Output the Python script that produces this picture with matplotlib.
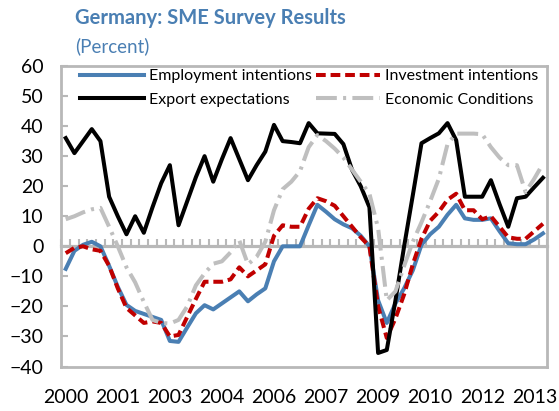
import matplotlib
matplotlib.use("Agg")
import matplotlib.pyplot as plt
import numpy as np

plt.rcParams['font.family'] = ['Lato', 'DejaVu Sans']
plt.rcParams['lines.scale_dashes'] = False

# ---- data (quarterly, 2000Q1 .. 2013Q4) ----
year_labels = ['2000', '2001', '2003', '2004', '2006', '2007', '2009', '2010', '2012', '2013']
label_every = 6

employment = [-7.5, -1.5, 0.5, 1.5, 0, -6.5, -13.5, -19.5, -21.5, -22.5,
              -23.5, -24.5, -31.5, -31.8, -27, -22.3, -19.6, -21, -19, -17,
              -15, -18.3, -16, -14, -5, 0, 0, 0, 7, 13.8,
              11.5, 9, 7.3, 6, 3.5, 0, -18, -25.5, -19, -14,
              -8, 0.5, 4, 6.5, 10.5, 13.8, 9.3, 8.8, 8.8, 9.3,
              5, 1, 0.7, 0.7, 2.3, 4.3]
investment = [-2.3, -0.5, 0, -1, -1.5, -6.5, -14, -20.5, -23, -25.5,
              -25, -25.5, -30, -29.5, -23.5, -17.5, -11.8, -11.8, -11.8, -11,
              -7, -10, -8, -6, 3.5, 7, 6.5, 6.5, 12.5, 16,
              15, 13.5, 10, 6.5, 3, 0, -20, -30.5, -24, -16,
              -6, 2.5, 8.5, 11.5, 15.5, 17.5, 12, 12, 9, 10,
              6.5, 3, 2.5, 2.5, 5, 7.5]
export = [36, 31, 35, 39, 35, 16.5, 10, 4, 10, 4.5,
          13, 21, 27, 7, 15, 23, 30, 21.5, 29, 36,
          29, 22, 27, 31.5, 40.4, 35, 34.7, 34.3, 41, 37.6,
          37.5, 37.4, 34, 25.4, 20, 13, -35.5, -34.5, -18, 0,
          17, 34.3, 36, 37.6, 41, 35.3, 16.5, 16.5, 16.5, 22,
          14, 6.5, 16, 16.5, 19.7, 22.8]
economic = [9, 10, 11.3, 12.3, 12.8, 6.5, 0, -7, -12, -18.5,
            -24.5, -25.5, -25.7, -24.5, -20, -13, -9, -5.8, -5, -2,
            2, -6, -3.5, 1.5, 12, 19, 21.5, 25, 33, 37,
            35, 32.5, 29.5, 25.5, 21.5, 17.5, 6, -18, -15, -6.5,
            1.5, 8, 15, 22.5, 34, 37.5, 37.5, 37.5, 37.3, 33,
            29.5, 27, 27, 18, 22.5, 27.5]

x = np.arange(len(export))
n = len(x)

BLUE = '#4a7fb3'
RED = '#c00000'
GRAY = '#bfbfbf'
AXGRAY = '#b8b8b8'

fig = plt.figure(figsize=(5.59, 4.11), dpi=100)
ax = fig.add_axes([61.4 / 559, (411 - 366.5) / 411, 485.9 / 559, 300.5 / 411])

lw = 2.9
l1, = ax.plot(x, employment, color=BLUE, lw=lw, solid_joinstyle='round', label='Employment intentions')
l2, = ax.plot(x, investment, color=RED, lw=lw, linestyle=(0, (7, 3.5)), dash_capstyle='butt',
              label='Investment intentions')
l3, = ax.plot(x, export, color='black', lw=lw, solid_joinstyle='round', label='Export expectations')
l4, = ax.plot(x, economic, color=GRAY, lw=lw, linestyle=(0, (15, 4.5, 2.2, 4.5)), dash_capstyle='butt',
              label='Economic Conditions')

ax.set_xlim(-0.5, n - 0.5)
ax.set_ylim(-40, 60)
ax.set_yticks(np.arange(-40, 61, 10))
ax.set_xticks(np.arange(0, n, label_every)[:len(year_labels)], labels=year_labels)

for s in ax.spines.values():
    s.set_color(AXGRAY)
    s.set_linewidth(2.0)

ax.tick_params(axis='x', length=0, pad=16, labelsize=14)
ax.tick_params(axis='y', direction='in', length=5, width=1.5, color=AXGRAY, pad=13, labelsize=14)

# horizontal category axis crossing at zero
ax2 = ax.secondary_xaxis(0.4)
ax2.set_xticks(np.arange(-0.5, n, 1.0))
ax2.tick_params(axis='x', direction='in', length=5, width=1.5, color=AXGRAY, labelbottom=False)
ax2.spines['bottom'].set_color(AXGRAY)
ax2.spines['bottom'].set_linewidth(2.3)

leg = ax.legend([l1, l3, l2, l4], [l1.get_label(), l3.get_label(), l2.get_label(), l4.get_label()],
                ncol=2, loc='upper left', bbox_to_anchor=(0.038, 0.99), frameon=False,
                borderaxespad=0, borderpad=0, fontsize=11.5, handlelength=4.0, handletextpad=0.3,
                columnspacing=0.3, labelspacing=0.6)

fig.text(75 / 559, 1 - 18 / 411, 'Germany: SME Survey Results', color=BLUE, fontsize=14.5,
         fontweight='bold', va='center', ha='left')
fig.text(75 / 559, 1 - 46 / 411, '(Percent)', color=BLUE, fontsize=13.5, va='center', ha='left')

fig.savefig('out.png', dpi=100)
